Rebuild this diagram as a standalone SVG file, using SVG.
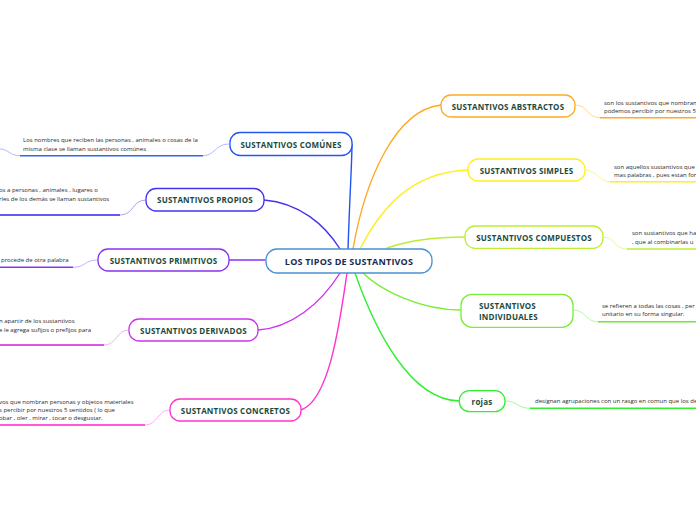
<svg xmlns="http://www.w3.org/2000/svg" width="696" height="520" viewBox="0 0 696 520">
<style>
.node{fill:#ffffff;stroke-width:1.3}
.nt{font-family:"Open Sans","Noto Sans",sans-serif;font-weight:bold;font-size:8px;fill:#1b4a3c;text-anchor:middle;dominant-baseline:central;letter-spacing:0.2px}
.lt{font-family:"Open Sans","Noto Sans",sans-serif;font-size:6px;fill:#2a2a2a}
.c{fill:none;stroke-width:1.4;stroke-linecap:round}
.thin{fill:none;stroke-width:0.8}
.ul{fill:none;stroke-width:1.6}
</style>
<rect width="696" height="520" fill="#ffffff"/>
<g id="connectors">
<path class="c" stroke="#2255ee" d="M348 249 C350 190 352 160 352 144"/>
<path class="c" stroke="#4433ee" d="M264 200 C300 203 325 225 340 249"/>
<path class="c" stroke="#8833ee" d="M229 260 L265 260"/>
<path class="c" stroke="#cc33ee" d="M258 330 C290 328 320 305 340 273"/>
<path class="c" stroke="#ff33cc" d="M347 273 C340 320 330 400 301 410"/>
<path class="c" stroke="#ffaa22" d="M353 249 C365 180 395 110 441 105"/>
<path class="c" stroke="#ffee22" d="M360 249 C380 210 410 172 468 170"/>
<path class="c" stroke="#bbee33" d="M387 248 C410 240 440 237 465 237"/>
<path class="c" stroke="#77ee33" d="M363 273 C380 290 420 310 461 310"/>
<path class="c" stroke="#33ee33" d="M355 273 C375 330 410 400 459 401"/>
<path class="thin" stroke="#99aaff" d="M229 144 C215 144 215 155.7 203 155.7"/>
<path class="ul" stroke="#3366ee" d="M203 155.7 L20 155.7"/>
<path class="thin" stroke="#99aaff" d="M20 155.7 C10 155.7 8 149 0 149"/>
<path class="thin" stroke="#9988ff" d="M146 200 C132 200 134 215 120 215"/>
<path class="ul" stroke="#3322ee" d="M120 215 L0 215"/>
<path class="thin" stroke="#bb99ff" d="M98 260 C84 260 86 267.3 73 267.3"/>
<path class="ul" stroke="#8833ee" d="M73 267.3 L0 267.3"/>
<path class="thin" stroke="#ee99ff" d="M129 330 C116 330 117 345 104 345"/>
<path class="ul" stroke="#cc22dd" d="M104 345 L0 345"/>
<path class="thin" stroke="#ff99ee" d="M170 410 C157 410 158 425 145 425"/>
<path class="ul" stroke="#ff22cc" d="M145 425 L0 425"/>
<path class="thin" stroke="#ffcc77" d="M575 105 C588 105 587 117.7 600 117.7"/>
<path class="ul" stroke="#ffaa22" d="M600 117.7 L696 117.7"/>
<path class="thin" stroke="#ffee77" d="M585 170 C598 170 597 181.7 610 181.7"/>
<path class="ul" stroke="#ffee22" d="M610 181.7 L696 181.7"/>
<path class="thin" stroke="#ddf588" d="M603 237 C615 237 614 249 627 249"/>
<path class="ul" stroke="#bbee33" d="M627 249 L696 249"/>
<path class="thin" stroke="#aaf588" d="M573 310 C586 310 585 321.7 598 321.7"/>
<path class="ul" stroke="#66ee33" d="M598 321.7 L696 321.7"/>
<path class="thin" stroke="#88f588" d="M505 401 C518 401 517 408.3 530 408.3"/>
<path class="ul" stroke="#33ee33" d="M530 408.3 L696 408.3"/>
</g>
<g id="center">
<rect x="266" y="249" width="166" height="24" rx="11" fill="#ffffff" stroke="#4a90d0" stroke-width="1.3"/>
<text x="349" y="261.5" class="nt" style="font-size:9px;fill:#1a2a50">LOS TIPOS DE SUSTANTIVOS</text>
</g>
<g id="comunes">
<rect class="node" stroke="#2255ee" x="230" y="132.5" width="122" height="23" rx="10"/>
<text class="nt" x="291" y="144">SUSTANTIVOS COMÚNES</text>
<text class="lt" x="23" y="142">Los nombres que reciben las personas , animales o cosas de la</text>
<text class="lt" x="23" y="151">misma clase se llaman sustantivos comúnes</text>
</g>
<g id="propios">
<rect class="node" stroke="#4433ee" x="146" y="188.5" width="118" height="22.5" rx="10"/>
<text class="nt" x="205" y="199.7">SUSTANTIVOS PROPIOS</text>
<text class="lt" x="-1" y="192">os a personas , animales , lugares o</text>
<text class="lt" x="-1" y="201.3">rles de los demás se llaman sustantivos</text>
</g>
<g id="primitivos">
<rect class="node" stroke="#8833ee" x="98" y="249" width="131" height="22" rx="10"/>
<text class="nt" x="163.5" y="260">SUSTANTIVOS PRIMITIVOS</text>
<text class="lt" x="1" y="262">procede de otra palabra</text>
</g>
<g id="derivados">
<rect class="node" stroke="#cc33ee" x="129" y="319" width="129" height="22" rx="10"/>
<text class="nt" x="193.5" y="330">SUSTANTIVOS DERIVADOS</text>
<text class="lt" x="-1" y="323">n apartir de los sustantivos</text>
<text class="lt" x="-1" y="332">e le agrega sufijos o prefijos para</text>
</g>
<g id="concretos">
<rect class="node" stroke="#ff33cc" x="170" y="399" width="131" height="22" rx="10"/>
<text class="nt" x="235.5" y="410">SUSTANTIVOS CONCRETOS</text>
<text class="lt" x="-1" y="403.7">vos que nombran personas y objetos materiales</text>
<text class="lt" x="-1" y="412">s percibir por nuestros 5 sentidos ( lo que</text>
<text class="lt" x="-1" y="420">obar , oler , mirar , tocar o desgustar.</text>
</g>
<g id="abstractos">
<rect class="node" stroke="#ffaa22" x="441" y="95" width="134" height="22" rx="10"/>
<text class="nt" x="508" y="106">SUSTANTIVOS ABSTRACTOS</text>
<text class="lt" x="604" y="104.7">son los sustantivos que nombran</text>
<text class="lt" x="604" y="112.5">podemos percibir por nuestros 5</text>
</g>
<g id="simples">
<rect class="node" stroke="#ffee22" x="468" y="159" width="117" height="22" rx="10"/>
<text class="nt" x="526.5" y="170">SUSTANTIVOS SIMPLES</text>
<text class="lt" x="614" y="168.7">son aquellos sustantivos que</text>
<text class="lt" x="614" y="177">mas palabras , pues estan for</text>
</g>
<g id="compuestos">
<rect class="node" stroke="#bbee33" x="465" y="226" width="138" height="22.3" rx="10"/>
<text class="nt" x="534" y="237">SUSTANTIVOS COMPUESTOS</text>
<text class="lt" x="632" y="235.3">son sustantivos que ha</text>
<text class="lt" x="632" y="243.7">, que al combinarlas  u</text>
</g>
<g id="individuales">
<rect class="node" stroke="#77ee33" x="461" y="294.3" width="112" height="33" rx="11"/>
<text class="nt" x="479" y="305.5" style="text-anchor:start">SUSTANTIVOS</text>
<text class="nt" x="479" y="316.5" style="text-anchor:start">INDIVIDUALES</text>
<text class="lt" x="602" y="307.7">se refieren a todas las cosas , per</text>
<text class="lt" x="602" y="316.3">unitario en su forma singular.</text>
</g>
<g id="rojas">
<rect class="node" stroke="#33ee33" x="459.3" y="390.7" width="45.7" height="21" rx="10"/>
<text class="nt" x="482" y="401.2">rojas</text>
<text class="lt" x="535" y="403">designan agrupaciones con un rasgo en comun que los de</text>
</g>
</svg>
